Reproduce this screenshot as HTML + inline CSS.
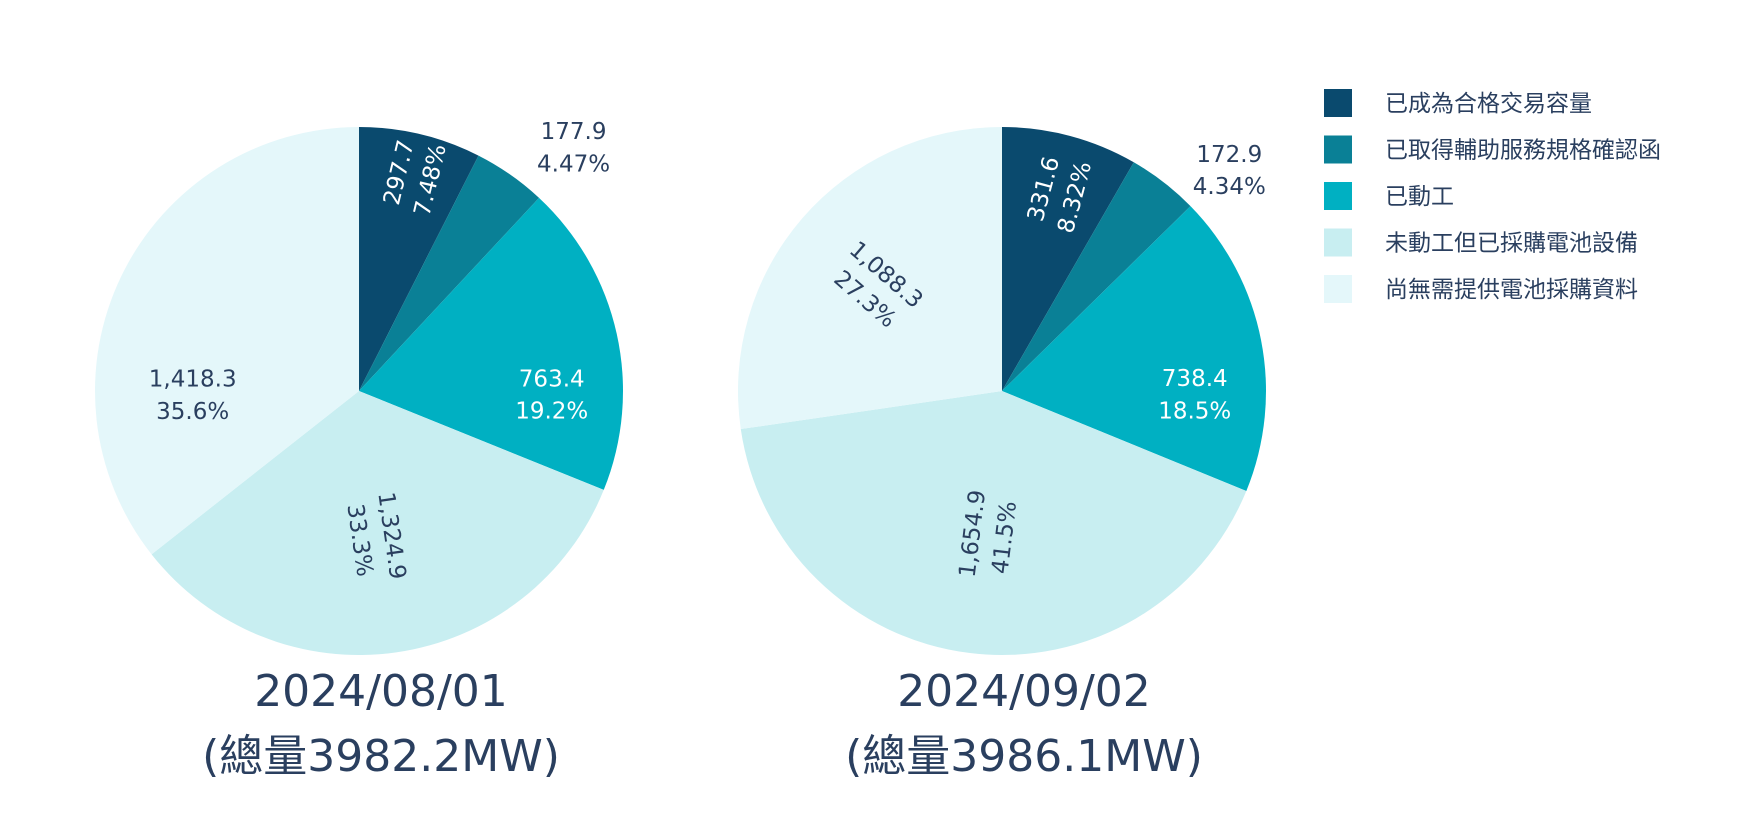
<!DOCTYPE html>
<html><head><meta charset="utf-8"><style>
html,body{margin:0;padding:0;background:#fff;}
svg{display:block;font-family:"DejaVu Sans","Noto Sans CJK TC",sans-serif;}
</style></head><body>
<svg id="chart" width="1752" height="830" viewBox="0 0 1752 830"></svg>
<script>
const categories = ["已成為合格交易容量","已取得輔助服務規格確認函","已動工","未動工但已採購電池設備","尚無需提供電池採購資料"];
const valuesAug = [297.7,177.9,763.4,1324.9,1418.3];
const valuesSep = [331.6,172.9,738.4,1654.9,1088.3];
const titlesAug = ["2024/08/01","(總量3982.2MW)"];
const titlesSep = ["2024/09/02","(總量3986.1MW)"];
const colors = ["#0a4a6e","#0a8096","#00b0c2","#c8eef1","#e4f7fa"];
const textColors = ["#fff","#fff","#fff","#2a3f5f","#2a3f5f"];
// label placement: [radiusFraction, mode, angleNudgeDeg]
const labelAug = [[0.84,"radial",0],[1.24,"out",6],[0.73,"h",12.5],[0.56,"radial",0],[0.63,"h",-26]];
const labelSep = [[0.78,"radial",0],[1.21,"out",7.6],[0.73,"h",11],[0.55,"radial",0],[0.62,"radial",0]];
const NS="http://www.w3.org/2000/svg";
const svg=document.getElementById('chart');
function mk(t,a){const e=document.createElementNS(NS,t);for(const k in a)e.setAttribute(k,a[k]);return e;}
function fmt(v){return v.toLocaleString('en-US',{minimumFractionDigits:1,maximumFractionDigits:1});}
function pct(p){return p>=10?p.toFixed(1)+"%":p.toFixed(2)+"%";}
function drawPie(cx,cy,R,vals,labels,titles,key){
  const g=mk('g',{});
  
  
  svg.appendChild(g);
  const total=vals.reduce((a,b)=>a+b,0);
  let acc=0;
  vals.forEach((v,i)=>{
    const a0=acc/total*2*Math.PI, a1=(acc+v)/total*2*Math.PI; acc+=v;
    const x0=cx+R*Math.sin(a0),y0=cy-R*Math.cos(a0),x1=cx+R*Math.sin(a1),y1=cy-R*Math.cos(a1);
    const p=mk('path',{d:`M${cx},${cy}L${x0},${y0}A${R},${R} 0 ${a1-a0>Math.PI?1:0} 1 ${x1},${y1}Z`,fill:colors[i]});
    
    
    g.appendChild(p);
    const mid=(a0+a1)/2, deg=mid*180/Math.PI;
    const [f,mode,nudge]=labels[i];
    const pa=mid+nudge*Math.PI/180;
    const lx=cx+f*R*Math.sin(pa), ly=cy-f*R*Math.cos(pa);
    let rot=0;
    if(mode==="radial"){rot=deg-90; if(deg>180) rot-=180;}
    const t=mk('text',{x:0,y:0,'text-anchor':'middle','font-size':23,fill:mode==="out"?"#2a3f5f":textColors[i],transform:`translate(${lx},${ly}) rotate(${rot})`});
    
    
    const s1=mk('tspan',{x:0,dy:'-0.2em'});s1.textContent=fmt(v);
    const s2=mk('tspan',{x:0,dy:'1.4em'});s2.textContent=pct(v/total*100);
    t.appendChild(s1);t.appendChild(s2);g.appendChild(t);
  });
  titles.forEach((tt,j)=>{
    const t=mk('text',{x:cx+22,y:706+j*65,'text-anchor':'middle','font-size':44,fill:'#2a3f5f'});
    
    
    t.textContent=tt;g.appendChild(t);
  });
}
drawPie(359,391,264,valuesAug,labelAug,titlesAug,'aug');
drawPie(1002,391,264,valuesSep,labelSep,titlesSep,'sep');
const lg=mk('g',{});


svg.appendChild(lg);
categories.forEach((c,i)=>{
  const y=103+i*46.5;
  const e=mk('g',{});
  
  
  const r=mk('rect',{x:1324,y:y-14,width:28,height:28,fill:colors[i]});
  const t=mk('text',{x:1385,y:y+8,'font-size':23,fill:'#2a3f5f'});t.textContent=c;
  e.appendChild(r);e.appendChild(t);lg.appendChild(e);
});
</script>
</body></html>
